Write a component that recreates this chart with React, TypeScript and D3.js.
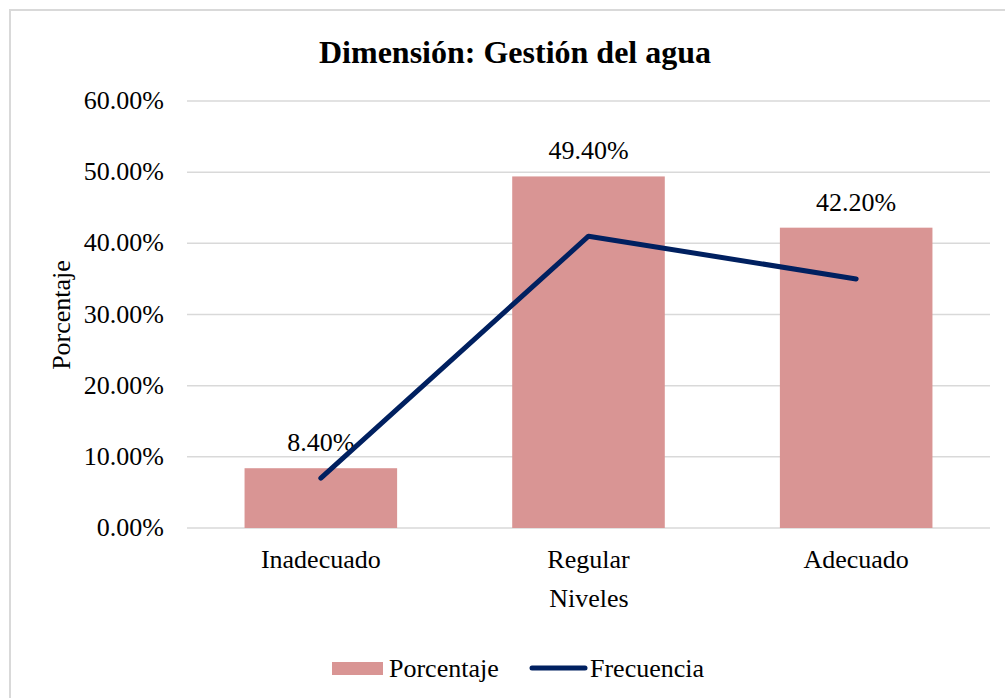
import React from "react";
import * as d3 from "d3";

const categories = ["Inadecuado", "Regular", "Adecuado"];
const porcentaje = [0.084, 0.494, 0.422];
const frecuencia = [7, 41, 35];
const yTicks = [0, 0.1, 0.2, 0.3, 0.4, 0.5, 0.6];

const W = 1005;
const H = 698;
const M = { left: 187, right: 990, top: 101, bottom: 528 };
const FONT = "Times New Roman, Liberation Serif, Tinos, serif";
const BAR = "#D99594";
const LINE = "#002060";
const GRID = "#D9D9D9";
const FS = 26;
const TS: React.CSSProperties = { fontFamily: FONT };

export default function App() {
  const x = d3.scaleBand<string>().domain(categories).range([M.left, M.right]).paddingInner(0.43).paddingOuter(0.215);
  const xc = (c: string) => (x(c) as number) + x.bandwidth() / 2;
  const y = d3.scaleLinear().domain([0, 0.6]).range([M.bottom, M.top]);
  const y2 = d3.scaleLinear().domain([0, 60]).range([M.bottom, M.top]);
  const fmt = d3.format(".2%");
  const line = d3
    .line<number>()
    .x((_, i) => xc(categories[i]))
    .y((d) => y2(d));

  return (
    <svg width={W} height={H} style={{ position: "absolute", left: 0, top: 0, fontFamily: FONT }}>
      <rect x={0} y={0} width={W} height={H} fill="#fff" />
      <rect x={10} y={10} width={W + 20} height={H + 20} fill="none" stroke={GRID} strokeWidth={2} />
      <text x={515} y={63} textAnchor="middle" fontWeight="bold" fontSize={32} fill="#000" style={TS}>
        Dimensión: Gestión del agua
      </text>
      {yTicks.map((t) => (
        <g key={t}>
          <line x1={M.left} x2={M.right} y1={y(t)} y2={y(t)} stroke={GRID} strokeWidth={1.5} />
          <text x={164} y={y(t) + 8} textAnchor="end" fontSize={FS} fill="#000" style={TS}>
            {fmt(t)}
          </text>
        </g>
      ))}
      {categories.map((c, i) => (
        <g key={c}>
          <rect x={x(c)} y={y(porcentaje[i])} width={x.bandwidth()} height={y(0) - y(porcentaje[i])} fill={BAR} />
          <text x={xc(c)} y={y(porcentaje[i]) - 17} textAnchor="middle" fontSize={FS} fill="#000" style={TS}>
            {fmt(porcentaje[i])}
          </text>
          <text x={xc(c)} y={568} textAnchor="middle" fontSize={FS} fill="#000" style={TS}>
            {c}
          </text>
        </g>
      ))}
      <path d={line(frecuencia) || ""} fill="none" stroke={LINE} strokeWidth={5} strokeLinecap="round" strokeLinejoin="round" />
      <text x={589} y={607} textAnchor="middle" fontSize={FS} fill="#000" style={TS}>
        Niveles
      </text>
      <text transform={`translate(70,315) rotate(-90)`} textAnchor="middle" fontSize={FS} fill="#000" style={TS}>
        Porcentaje
      </text>
      <rect x={332} y={662} width={51} height={13} fill={BAR} />
      <text x={389} y={677} fontSize={FS} fill="#000" style={TS}>
        Porcentaje
      </text>
      <line x1={532} x2={585} y1={668} y2={668} stroke={LINE} strokeWidth={5} strokeLinecap="round" />
      <text x={590} y={677} fontSize={FS} fill="#000" style={TS}>
        Frecuencia
      </text>
    </svg>
  );
}
